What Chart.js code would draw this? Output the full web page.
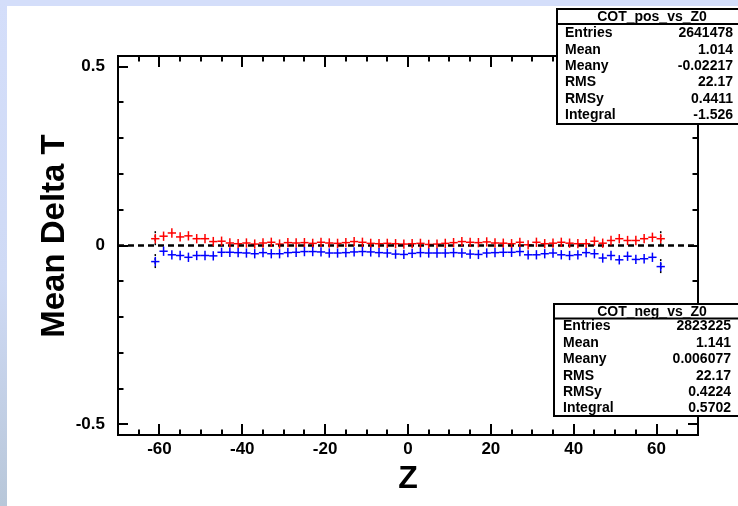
<!DOCTYPE html>
<html><head><meta charset="utf-8">
<script src="https://cdn.jsdelivr.net/npm/chart.js@4/dist/chart.umd.min.js"></script>
<style>
html,body{margin:0;padding:0;background:#fff;}
#wrap{position:relative;width:738px;height:506px;overflow:hidden;background:#fff;}
#topband{position:absolute;left:0;top:0;width:738px;height:6px;background:#d4defa;}
#leftband{position:absolute;left:0;top:0;width:7px;height:506px;background:linear-gradient(#d4defa,#cfdaf5 55%,#b8c7d9);}
canvas{position:absolute;left:0;top:0;}
</style></head><body>
<div id="wrap"><div id="topband"></div><div id="leftband"></div><canvas id="c" width="738" height="506"></canvas></div>
<script>
// ---- data ----
const zBins = [-61,-59,-57,-55,-53,-51,-49,-47,-45,-43,-41,-39,-37,-35,-33,-31,-29,-27,
  -25,-23,-21,-19,-17,-15,-13,-11,-9,-7,-5,-3,-1,1,3,5,7,9,11,13,15,17,19,21,
  23,25,27,29,31,33,35,37,39,41,43,45,47,49,51,53,55,57,59,61];
const redValues = [0.019,0.026,0.035,0.024,0.027,0.019,0.019,0.011,0.012,0.007,0.005,0.007,0.004,0.007,0.009,0.004,0.008,0.007,
  0.008,0.006,0.009,0.007,0.006,0.008,0.011,0.009,0.006,0.005,0.006,0.005,0.004,0.005,0.006,0.003,0.004,0.006,0.008,0.011,0.009,0.008,0.010,0.007,
  0.0065,0.005,0.009,0.002,0.009,0.005,0.0065,0.009,0.0065,0.005,0.005,0.012,0.0065,0.014,0.019,0.014,0.014,0.019,0.023,0.019];
const blueValues = [-0.045,-0.016,-0.026,-0.028,-0.033,-0.028,-0.028,-0.029,-0.019,-0.019,-0.020,-0.021,-0.023,-0.020,-0.023,-0.023,-0.020,-0.019,
  -0.017,-0.017,-0.018,-0.021,-0.021,-0.020,-0.018,-0.017,-0.018,-0.020,-0.021,-0.024,-0.025,-0.022,-0.020,-0.021,-0.021,-0.021,-0.020,-0.021,-0.024,-0.025,-0.021,-0.020,
  -0.019,-0.019,-0.017,-0.026,-0.026,-0.023,-0.021,-0.026,-0.028,-0.026,-0.020,-0.023,-0.035,-0.028,-0.040,-0.030,-0.039,-0.037,-0.033,-0.059];
const redErrors = [0.013,0.013,0.013,0.013,0.013,0.013,0.013,0.013,0.013,0.013,0.013,0.013,0.013,0.013,0.013,0.013,0.013,0.013,
  0.013,0.013,0.013,0.013,0.013,0.013,0.013,0.013,0.013,0.013,0.013,0.013,0.013,0.013,0.013,0.013,0.013,0.013,0.013,0.013,0.013,0.013,0.013,0.013,
  0.013,0.013,0.013,0.013,0.013,0.013,0.013,0.013,0.013,0.013,0.013,0.013,0.013,0.013,0.013,0.013,0.013,0.013,0.013,0.013];
const blueErrors = [0.013,0.013,0.013,0.013,0.013,0.013,0.013,0.013,0.013,0.013,0.013,0.013,0.013,0.013,0.013,0.013,0.013,0.013,
  0.013,0.013,0.013,0.013,0.013,0.013,0.013,0.013,0.013,0.013,0.013,0.013,0.013,0.013,0.013,0.013,0.013,0.013,0.013,0.013,0.013,0.013,0.013,0.013,
  0.013,0.013,0.013,0.013,0.013,0.013,0.013,0.013,0.013,0.013,0.013,0.013,0.013,0.013,0.013,0.013,0.013,0.013,0.013,0.013];
const endErrors = [0.021, 0.021]; // wide (black) error bars at first / last bin
const xTickVals = [-60,-40,-20,0,20,40,60];
const xTickLabels = ['-60','-40','-20','0','20','40','60'];
const xMinorVals = [-65,-55,-50,-45,-35,-30,-25,-15,-10,-5,5,10,15,25,30,35,45,50,55,65];
const yTickVals = [-0.5,0,0.5];
const yTickLabels = ['-0.5','0','0.5'];
const yMinorVals = [-0.4,-0.3,-0.2,-0.1,0.1,0.2,0.3,0.4];
const zeroLine = [{x:-70,y:0},{x:70,y:0}];
const statLabels = ['Entries','Mean','Meany','RMS','RMSy','Integral'];
const posTitle = 'COT_pos_vs_Z0';
const posStats = ['2641478','1.014','-0.02217','22.17','0.4411','-1.526'];
const negTitle = 'COT_neg_vs_Z0';
const negStats = ['2823225','1.141','0.006077','22.17','0.4224','0.5702'];

const FONT = '"Liberation Sans", Arial, Helvetica, sans-serif';
const toPts = (ys) => zBins.map((z,i)=>({x:z, y:ys[i]}));
const halfBinPx = (ctx) => { const s = ctx.chart.scales.x; return Math.abs(s.getPixelForValue(1) - s.getPixelForValue(0)); };

const rootPlugin = {
  id: 'rootStyle',
  beforeDatasetsDraw(chart) {
    const {ctx, chartArea: a, scales: {x, y}} = chart;
    ctx.save();
    ctx.strokeStyle = '#000';
    ctx.lineWidth = 2;
    const tick = (px, len, horiz) => {
      ctx.beginPath();
      if (horiz) { ctx.moveTo(px, a.bottom); ctx.lineTo(px, a.bottom - len); ctx.moveTo(px, a.top); ctx.lineTo(px, a.top + len); }
      else { ctx.moveTo(a.left, px); ctx.lineTo(a.left + len, px); ctx.moveTo(a.right, px); ctx.lineTo(a.right - len, px); }
      ctx.stroke();
    };
    xTickVals.forEach(v => tick(Math.round(x.getPixelForValue(v)), 11, true));
    xMinorVals.forEach(v => tick(Math.round(x.getPixelForValue(v)), 5.5, true));
    yTickVals.forEach(v => tick(Math.round(y.getPixelForValue(v)), 10, false));
    yMinorVals.forEach(v => tick(Math.round(y.getPixelForValue(v)), 5.5, false));
    ctx.strokeRect(a.left, a.top, a.right - a.left, a.bottom - a.top);
    ctx.restore();
  },
  afterDatasetsDraw(chart) {
    const {ctx, scales: {x, y}} = chart;
    ctx.save();
    const series = [[redValues, redErrors, '#ff0000'], [blueValues, blueErrors, '#0000ff']];
    series.forEach(([vals, errs, col]) => {
      const last = vals.length - 1;
      [[0, endErrors[0]], [last, endErrors[1]]].forEach(([i, e]) => {
        const px = x.getPixelForValue(zBins[i]);
        ctx.strokeStyle = '#000'; ctx.lineWidth = 1.5; ctx.setLineDash([2, 2]);
        ctx.beginPath(); ctx.moveTo(px, y.getPixelForValue(vals[i] + e)); ctx.lineTo(px, y.getPixelForValue(vals[i] - e)); ctx.stroke();
      });
      ctx.setLineDash([]);
      ctx.strokeStyle = col; ctx.lineWidth = 1.5;
      vals.forEach((v, i) => {
        const px = x.getPixelForValue(zBins[i]);
        ctx.beginPath(); ctx.moveTo(px, y.getPixelForValue(v + errs[i])); ctx.lineTo(px, y.getPixelForValue(v - errs[i])); ctx.stroke();
      });
    });
    ctx.restore();
  },
  afterDraw(chart) {
    const {ctx} = chart;
    ctx.save();
    ctx.fillStyle = '#000';
    ctx.font = 'bold 33px ' + FONT;
    ctx.textAlign = 'center'; ctx.textBaseline = 'middle';
    ctx.translate(55, 236); ctx.rotate(-Math.PI / 2);
    ctx.fillText('Mean Delta T', 0, 0);
    ctx.restore();
    const box = (bx, by, bh, sepY, titleX, title, vals, rowY0, rowDy, lx, vx) => {
      ctx.save();
      ctx.fillStyle = '#fff'; ctx.fillRect(bx, by, 760 - bx, bh);
      ctx.strokeStyle = '#000'; ctx.lineWidth = 2;
      ctx.strokeRect(bx, by, 760 - bx, bh);
      ctx.beginPath(); ctx.moveTo(bx, sepY); ctx.lineTo(760, sepY); ctx.stroke();
      ctx.fillStyle = '#000';
      ctx.font = 'bold 14px ' + FONT;
      ctx.textBaseline = 'middle';
      ctx.textAlign = 'center';
      ctx.fillText(title, titleX, (by + sepY) / 2 + 0.5);
      statLabels.forEach((l, i) => {
        const ry = rowY0 + i * rowDy;
        ctx.textAlign = 'left'; ctx.fillText(l, lx, ry);
        ctx.textAlign = 'right'; ctx.fillText(vals[i], vx, ry);
      });
      ctx.restore();
    };
    box(557, 9, 115, 24, 652, posTitle, posStats, 33.5, 16.3, 565, 733);
    box(554, 304, 112, 318.5, 652, negTitle, negStats, 326.5, 16.4, 563, 731);
  }
};

new Chart(document.getElementById('c'), {
  type: 'scatter',
  data: {
    datasets: [
      { label: 'zero', data: zeroLine, showLine: true, borderColor: '#000', borderWidth: 2.5, borderDash: [6, 4], pointRadius: 0, fill: false },
      { label: negTitle, data: toPts(redValues), showLine: false, pointStyle: 'line', pointRadius: halfBinPx, pointHoverRadius: halfBinPx, borderColor: '#ff0000', backgroundColor: '#ff0000', pointBorderWidth: 1.5 },
      { label: posTitle, data: toPts(blueValues), showLine: false, pointStyle: 'line', pointRadius: halfBinPx, pointHoverRadius: halfBinPx, borderColor: '#0000ff', backgroundColor: '#0000ff', pointBorderWidth: 1.5 }
    ]
  },
  options: {
    responsive: false, animation: false, events: [],
    layout: { padding: { left: 0, top: 56, right: 40, bottom: 0 } },
    plugins: { legend: { display: false }, tooltip: { enabled: false } },
    scales: {
      x: {
        type: 'linear', min: -70, max: 70,
        grid: { display: false, drawTicks: false }, border: { display: false },
        afterBuildTicks: (s) => { s.ticks = xTickVals.map(v => ({ value: v })); },
        afterFit: (s) => { s.height = 71; },
        ticks: { color: '#000', font: { family: FONT, weight: 'bold', size: 17 }, padding: 4, maxRotation: 0,
                 callback: (v) => xTickLabels[xTickVals.indexOf(v)] },
        title: { display: true, text: 'Z', color: '#000', font: { family: FONT, weight: 'bold', size: 32 }, padding: { top: 0, bottom: 8 } }
      },
      y: {
        type: 'linear', min: -0.53, max: 0.53,
        grid: { display: false, drawTicks: false }, border: { display: false },
        afterBuildTicks: (s) => { s.ticks = yTickVals.map(v => ({ value: v })); },
        afterFit: (s) => { s.width = 118; },
        ticks: { color: '#000', font: { family: FONT, weight: 'bold', size: 17 }, padding: 13,
                 callback: (v) => yTickLabels[yTickVals.indexOf(v)] }
      }
    }
  },
  plugins: [rootPlugin]
});
</script>
</body></html>
